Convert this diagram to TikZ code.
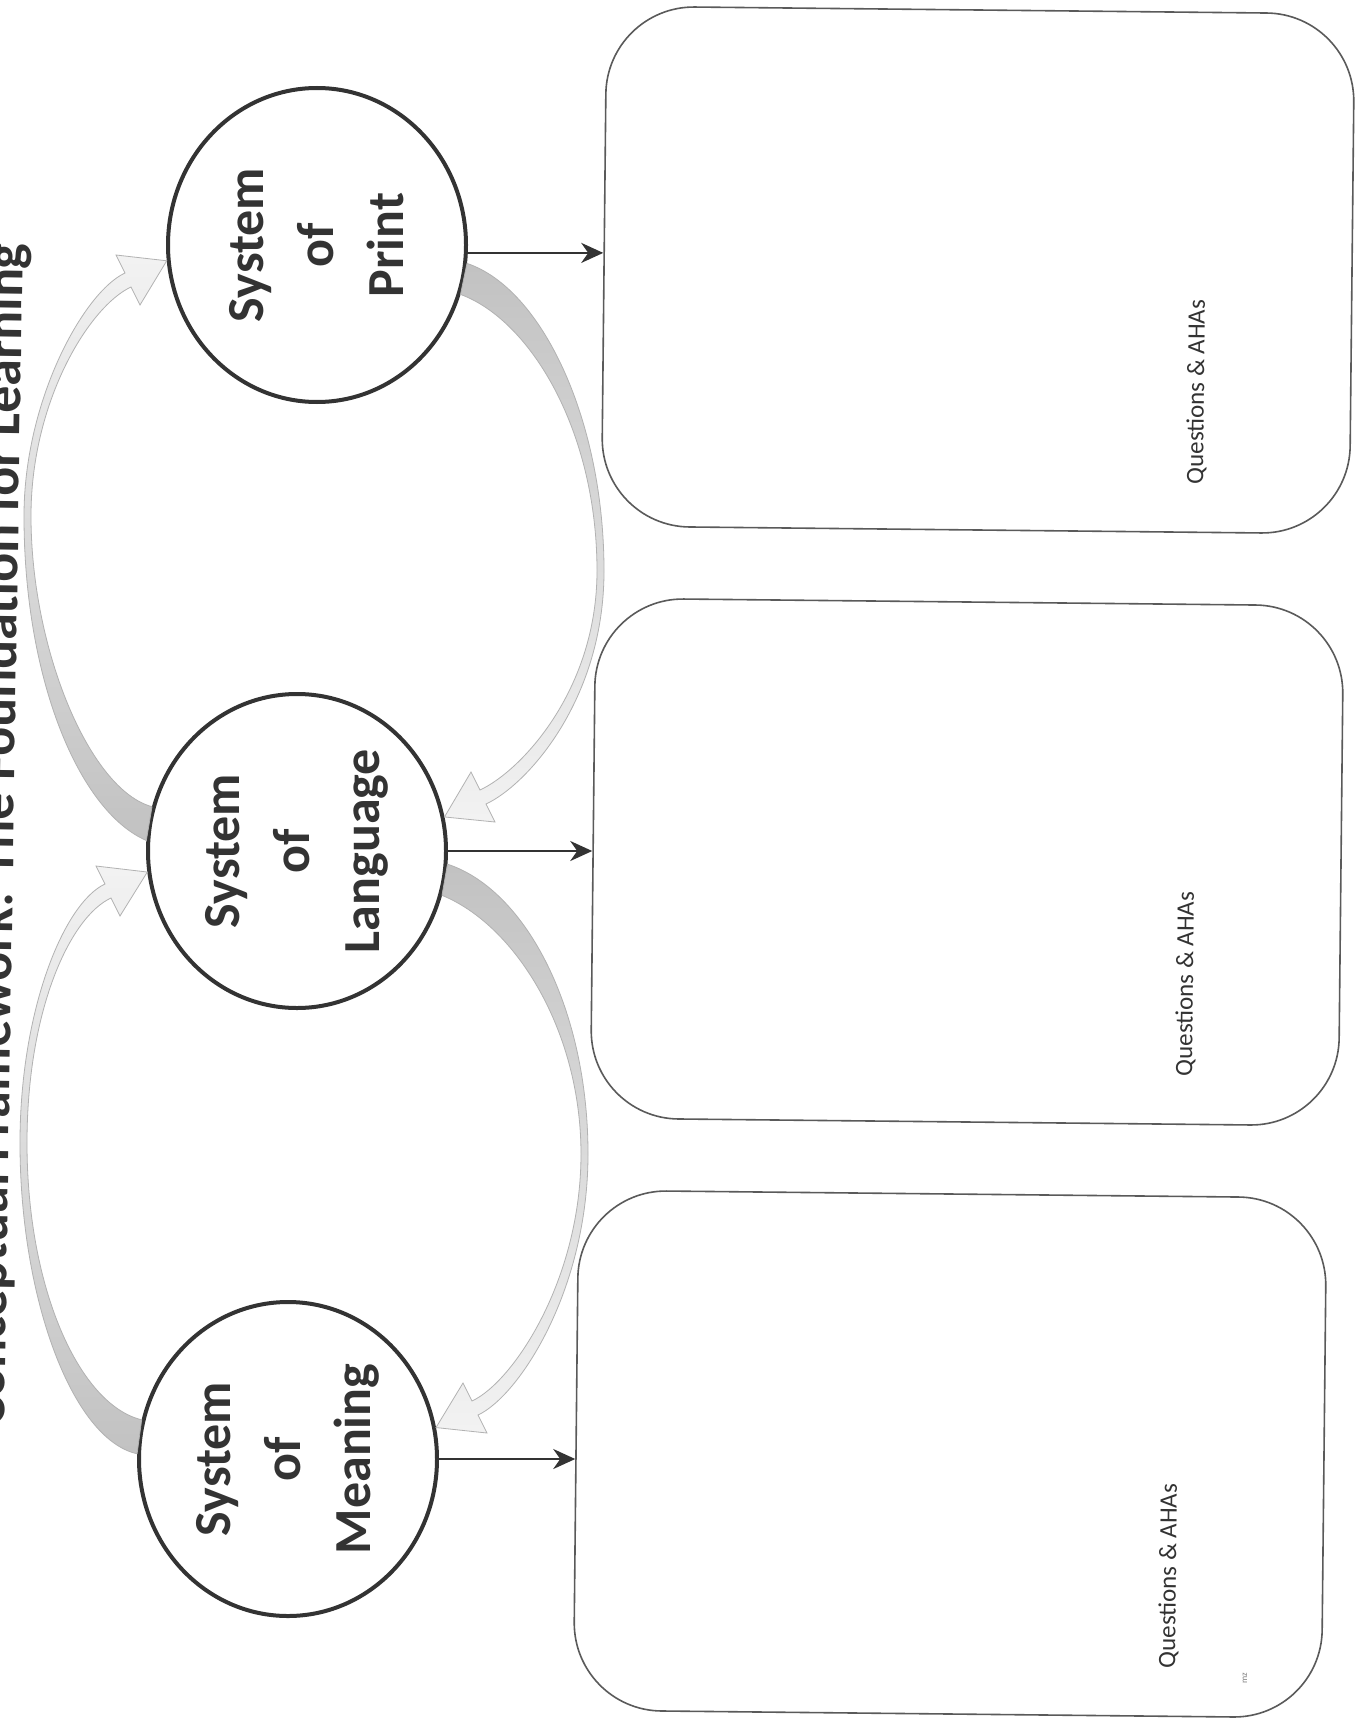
\documentclass[tikz,border=0pt]{standalone}
\usepackage{fontspec}
\setmainfont{Carlito}
\usetikzlibrary{shapes.geometric,arrows.meta}

\definecolor{ink}{HTML}{333333}
\definecolor{boxline}{HTML}{5A5A5A}

\begin{document}
\begin{tikzpicture}[x=1pt,y=-1pt,
  sysnode/.style={ellipse, draw=ink, line width=4pt, minimum width=298pt,
    minimum height=314pt, inner sep=0pt},
  systext/.style={rotate=90, align=center, text=ink,
    font=\fontsize{52}{70}\selectfont\bfseries},
  notebox/.style={draw=boxline, line width=1.6pt, rounded corners=88pt,
    minimum width=748pt, minimum height=520pt, rotate=-0.6},
  notelabel/.style={rotate=89.4, text=ink, font=\fontsize{25}{30}\selectfont},
  feed/.style={draw=ink, line width=2.6pt,
    -{Stealth[length=22pt,width=20pt,inset=7pt]}},
  loopup/.style={draw=gray!60, line width=0.8pt, top color=gray!10,
    bottom color=gray!48},
  loopdown/.style={draw=gray!60, line width=0.8pt, top color=gray!48,
    bottom color=gray!10}
]
\useasboundingbox[fill=white] (0,0) rectangle (1356,1723);

% heading, set along the left edge of the sheet
\node[rotate=89.1, anchor=base east, text=ink,
  font=\fontsize{54}{60}\selectfont\bfseries] (title) at (23,240)
  {Conceptual Framework: The Foundation for Learning};

% note boxes
\node[notebox] (B1) at (978,270) {};
\node[notebox] (B2) at (967,862) {};
\node[notebox] (B3) at (950,1454) {};
\node[notelabel] (Q1) at ([shift={(219,122)}]B1.center) {Questions \& AHAs};
\node[notelabel] (Q2) at ([shift={(219,122)}]B2.center) {Questions \& AHAs};
\node[notelabel] (Q3) at ([shift={(219,122)}]B3.center) {Questions \& AHAs};
\node[rotate=90, text=gray, font=\fontsize{9}{10}\selectfont] (mz)
  at ([shift={(295,224)}]B3.center) {mz};

% the three systems
\node[sysnode] (P) at (317,245) {};
\node[sysnode] (L) at (297,851) {};
\node[sysnode] (M) at (288,1459) {};
\node[systext] (Pt) at (P) {System\\of\\Print};
\node[systext] (Lt) at (L) {System\\of\\Language};
\node[systext] (Mt) at (M) {System\\of\\Meaning};

% curved arrows on the left: Language -> Print, Meaning -> Language
\path[loopup] (L.176) .. controls +(-67,-29) and (24,680) .. (24,516)
  .. controls (24,400) and (84,292) .. (125,273)
  -- (116,255) -- (P.186) -- (140,305) -- (131,287)
  .. controls (90,306) and (31,400) .. (31,516)
  .. controls (31,650) and (90,790) .. (L.163) -- cycle;
\path[loopup] (M.178) .. controls +(-64,-14) and (20,1300) .. (20,1143)
  .. controls (20,1010) and (64,903) .. (105,884)
  -- (96,866) -- (L.188) -- (120,916) -- (111,898)
  .. controls (70,917) and (27,1010) .. (27,1143)
  .. controls (27,1290) and (80,1405) .. (M.165) -- cycle;

% curved arrows on the right: Print -> Language, Language -> Meaning
\path[loopdown] (P.-7) .. controls +(75,25) and (604,420) .. (604,571)
  .. controls (604,700) and (527,785) .. (486,804)
  -- (495,822) -- (L.13) -- (471,772) -- (480,790)
  .. controls (521,771) and (597,690) .. (597,571)
  .. controls (597,430) and (530,320) .. (P.-19) -- cycle;
\path[loopdown] (L.-5) .. controls +(79,26) and (588,1010) .. (588,1154)
  .. controls (588,1290) and (519,1396) .. (478,1415)
  -- (487,1433) -- (M.12) -- (463,1383) -- (472,1401)
  .. controls (513,1382) and (581,1280) .. (581,1154)
  .. controls (581,1030) and (515,925) .. (L.-17) -- cycle;

% straight arrows into the note boxes
\draw[feed] (P.-3) -- (P.-3 -| B1.west);
\draw[feed] (L.east) -- (L.east -| B2.west);
\draw[feed] (M.east) -- (M.east -| B3.west);
\end{tikzpicture}
\end{document}
